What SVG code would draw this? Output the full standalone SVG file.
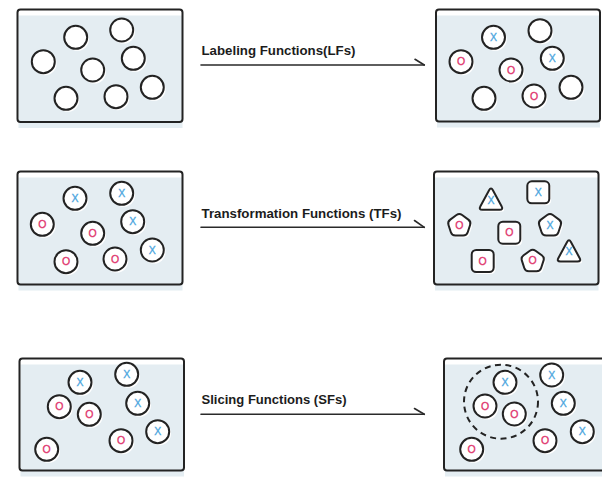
<svg xmlns="http://www.w3.org/2000/svg" xmlns:xlink="http://www.w3.org/1999/xlink" width="602" height="494" viewBox="0 0 602 494">
<style>
.bg{fill:#e4edf2}
.frame{fill:none;stroke:#232323;stroke-width:2}
.nd{fill:#fff;stroke:#232323;stroke-width:2;stroke-linejoin:round}
.sh{fill:#fff}
.x{fill:#4aa5de;stroke:#4aa5de;stroke-width:0.3;font-family:"Liberation Sans",Arial,sans-serif;font-size:10.5px;text-anchor:middle}
.o{fill:#e0336c;stroke:#e0336c;stroke-width:0.3;font-family:"Liberation Sans",Arial,sans-serif;font-size:10.5px;text-anchor:middle}
.lbl{fill:#1c1c1c;font-family:"Liberation Sans",Arial,sans-serif;font-weight:bold;font-size:13.5px}
.ln{stroke:#2a2a2a;stroke-width:1.6;fill:none;stroke-linecap:round}
.dash{fill:none;stroke:#232323;stroke-width:2;stroke-dasharray:6 4.5}
</style>
<defs>
<g id="circ"><circle cx="1.8" cy="2" r="11.5" class="sh"/><circle r="11.5" class="nd"/></g>
<g id="sq"><rect x="-9.2" y="-9" width="22" height="22" rx="4.5" class="sh"/><rect x="-11" y="-11" width="22" height="22" rx="4.5" class="nd"/></g>
<path id="pentP" d="M -2.83,-10.44 Q 0,-12.5 2.83,-10.44 L 9.06,-5.92 Q 11.89,-3.86 10.81,-0.53 L 8.43,6.78 Q 7.35,10.11 3.85,10.11 L -3.85,10.11 Q -7.35,10.11 -8.43,6.78 L -10.81,-0.53 Q -11.89,-3.86 -9.06,-5.92 Z" transform="translate(0,1.2)"/>
<g id="pent"><use href="#pentP" class="sh" x="1.8" y="2"/><use href="#pentP" class="nd"/></g>
<path id="triP" d="M -1.91,-7.98 Q 0,-11.5 1.91,-7.98 L 10.59,7.98 Q 12.5,11.5 8.5,11.5 L -8.5,11.5 Q -12.5,11.5 -10.59,7.98 Z"/>
<g id="tri"><use href="#triP" class="sh" x="1.8" y="2"/><use href="#triP" class="nd"/></g>
</defs>

<g id="connectors">
<line class="ln" x1="201" y1="65" x2="424.3" y2="65"/><line class="ln" x1="415" y1="59.3" x2="424.3" y2="65"/>
<text class="lbl" x="201.5" y="54.5" textLength="154" lengthAdjust="spacingAndGlyphs">Labeling Functions(LFs)</text>
<line class="ln" x1="201" y1="227.3" x2="424.3" y2="227.3"/><line class="ln" x1="414.5" y1="220.5" x2="424.3" y2="227.3"/>
<text class="lbl" x="201.5" y="217.5" textLength="200" lengthAdjust="spacingAndGlyphs">Transformation Functions (TFs)</text>
<line class="ln" x1="201" y1="414.3" x2="424.3" y2="414.3"/><line class="ln" x1="414.5" y1="408.5" x2="424.3" y2="414.3"/>
<text class="lbl" x="201.5" y="403.5" textLength="145" lengthAdjust="spacingAndGlyphs">Slicing Functions (SFs)</text>
</g>

<g id="panel-unlabeled">
<rect class="bg" x="18.5" y="15.5" width="164" height="112.5"/>
<rect class="frame" x="17.5" y="9.5" width="165" height="112.5" rx="3"/>
<use href="#circ" x="75.7" y="37.3"/><use href="#circ" x="121.7" y="30"/>
<use href="#circ" x="43.3" y="61.7"/><use href="#circ" x="133.3" y="58.3"/>
<use href="#circ" x="92.7" y="70"/><use href="#circ" x="66" y="98.3"/>
<use href="#circ" x="116" y="96.7"/><use href="#circ" x="152.3" y="87.3"/>
</g>

<g id="panel-labeled">
<rect class="bg" x="437" y="15.5" width="163" height="112"/>
<rect class="frame" x="436" y="9.5" width="164" height="112" rx="3"/>
<use href="#circ" x="493.5" y="37.3"/><text class="x" x="493.5" y="41">X</text>
<use href="#circ" x="540" y="30.7"/>
<use href="#circ" x="461" y="61.7"/><text class="o" x="461" y="65.4">O</text>
<use href="#circ" x="552.3" y="58.3"/><text class="x" x="552.3" y="62">X</text>
<use href="#circ" x="511" y="70"/><text class="o" x="511" y="73.7">O</text>
<use href="#circ" x="484" y="98.3"/>
<use href="#circ" x="534" y="96"/><text class="o" x="534" y="99.7">O</text>
<use href="#circ" x="571" y="87.3"/>
</g>

<g id="panel-tf-input">
<rect class="bg" x="18.5" y="177.5" width="164" height="113"/>
<rect class="frame" x="17.5" y="171.5" width="165" height="113" rx="3"/>
<use href="#circ" x="75" y="198.3"/><text class="x" x="75" y="202">X</text>
<use href="#circ" x="121.7" y="193.3"/><text class="x" x="121.7" y="197">X</text>
<use href="#circ" x="42.3" y="224.3"/><text class="o" x="42.3" y="228">O</text>
<use href="#circ" x="132.7" y="221.7"/><text class="x" x="132.7" y="225.4">X</text>
<use href="#circ" x="92.7" y="233.3"/><text class="o" x="92.7" y="237">O</text>
<use href="#circ" x="152.3" y="250"/><text class="x" x="152.3" y="253.7">X</text>
<use href="#circ" x="66" y="261.7"/><text class="o" x="66" y="265.4">O</text>
<use href="#circ" x="115" y="259"/><text class="o" x="115" y="262.7">O</text>
</g>

<g id="panel-transformed">
<rect class="bg" x="435" y="177.5" width="163.5" height="113"/>
<rect class="frame" x="434" y="171.5" width="164.5" height="113" rx="3"/>
<use href="#tri" x="491" y="198.3"/><text class="x" x="491" y="203.6">X</text>
<use href="#sq" x="538.3" y="192.3"/><text class="x" x="538.3" y="196">X</text>
<use href="#pent" x="459.3" y="224.3"/><text class="o" x="459.3" y="228.6">O</text>
<use href="#pent" x="550" y="224.3"/><text class="x" x="550" y="228.6">X</text>
<use href="#sq" x="509.3" y="232.7"/><text class="o" x="509.3" y="236.4">O</text>
<use href="#tri" x="569" y="250"/><text class="x" x="569" y="255.3">X</text>
<use href="#sq" x="482.7" y="261"/><text class="o" x="482.7" y="264.7">O</text>
<use href="#pent" x="532.7" y="260"/><text class="o" x="532.7" y="264.3">O</text>
</g>

<g id="panel-sf-input">
<rect class="bg" x="20.5" y="364.5" width="163.5" height="112"/>
<rect class="frame" x="19.5" y="358.5" width="164.5" height="112" rx="3"/>
<use href="#circ" x="80" y="382.3"/><text class="x" x="80" y="386">X</text>
<use href="#circ" x="126.7" y="374.3"/><text class="x" x="126.7" y="378">X</text>
<use href="#circ" x="59.3" y="406.7"/><text class="o" x="59.3" y="410.4">O</text>
<use href="#circ" x="89.3" y="414.3"/><text class="o" x="89.3" y="418">O</text>
<use href="#circ" x="137.7" y="403.3"/><text class="x" x="137.7" y="407">X</text>
<use href="#circ" x="157.7" y="431.7"/><text class="x" x="157.7" y="435.4">X</text>
<use href="#circ" x="121" y="440.7"/><text class="o" x="121" y="444.4">O</text>
<use href="#circ" x="46.7" y="449.3"/><text class="o" x="46.7" y="453">O</text>
</g>

<g id="panel-sliced">
<rect class="bg" x="445" y="364.5" width="164" height="112"/>
<rect class="frame" x="444" y="358.5" width="165" height="112" rx="3"/>
<circle id="slice" class="dash" cx="501" cy="401.7" r="37"/>
<use href="#circ" x="505" y="382.3"/><text class="x" x="505" y="386">X</text>
<use href="#circ" x="551.7" y="375"/><text class="x" x="551.7" y="378.7">X</text>
<use href="#circ" x="485" y="406"/><text class="o" x="485" y="409.7">O</text>
<use href="#circ" x="514.3" y="414"/><text class="o" x="514.3" y="417.7">O</text>
<use href="#circ" x="563.3" y="403.3"/><text class="x" x="563.3" y="407">X</text>
<use href="#circ" x="582.3" y="431.7"/><text class="x" x="582.3" y="435.4">X</text>
<use href="#circ" x="545" y="440.7"/><text class="o" x="545" y="444.4">O</text>
<use href="#circ" x="471.7" y="449.3"/><text class="o" x="471.7" y="453">O</text>
</g>
</svg>
